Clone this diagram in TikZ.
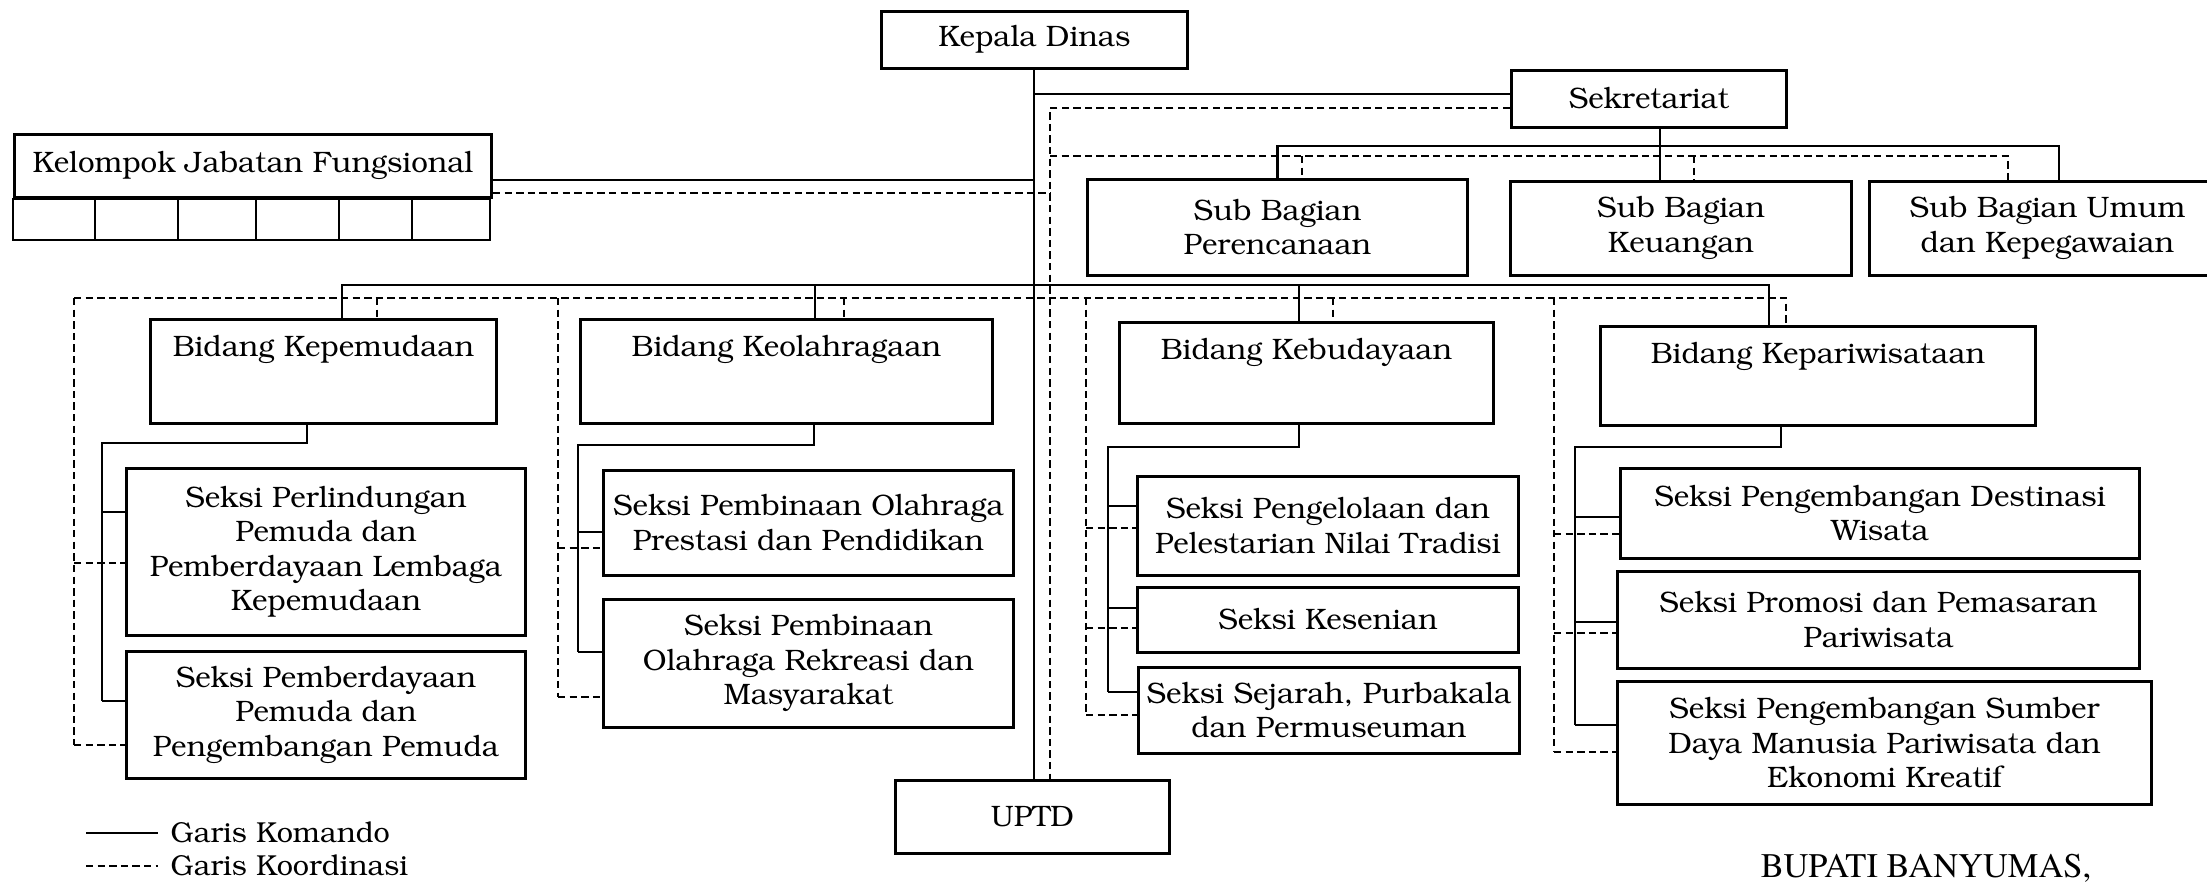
\documentclass[tikz,border=0pt]{standalone}
\usepackage[T1]{fontenc}
\usepackage{bookman}
\usepackage{tikz}

\begin{document}
\begin{tikzpicture}[x=0.01cm,y=-0.01cm,
	kotak/.style={draw,line width=0.75pt,inner sep=0pt,align=center,anchor=north west,font=\fontsize{8.4}{9.8}\selectfont},
	bidang/.style={kotak,text height=0.37cm},
	komando/.style={line width=0.6pt},
	koordinasi/.style={line width=0.55pt,dash pattern=on 2.1pt off 1.2pt}]
	\useasboundingbox (0,0) rectangle (2207,881);

	\node[kotak,minimum width=3.06cm,minimum height=0.57cm] (kadis) at (880,10) {Kepala Dinas};
	\node[kotak,minimum width=2.75cm,minimum height=0.57cm] (sekre) at (1510,69) {Sekretariat};
	\node[kotak,minimum width=4.77cm,minimum height=0.63cm] (jafung) at (13,133) {Kelompok Jabatan Fungsional};
	\foreach \a/\b in {13/95,95/178,178/256,256/339,339/412,412/490}
		\draw[line width=0.75pt] (\a,199) rectangle (\b,240);

	\node[kotak,minimum width=3.80cm,minimum height=0.96cm] (subren) at (1086,178) {Sub Bagian\\Perencanaan};
	\node[kotak,minimum width=3.41cm,minimum height=0.94cm] (subkeu) at (1509,180) {Sub Bagian\\Keuangan};
	\node[kotak,minimum width=3.56cm,minimum height=0.94cm] (subum) at (1868,180) {Sub Bagian Umum\\dan Kepegawaian};

	\node[bidang,minimum width=3.46cm,text depth=0.67cm] (bpemuda) at (149,318) {Bidang Kepemudaan};
	\node[bidang,minimum width=4.12cm,text depth=0.67cm] (bolahraga) at (579,318) {Bidang Keolahragaan};
	\node[bidang,minimum width=3.74cm,text depth=0.64cm] (bbudaya) at (1118,321) {Bidang Kebudayaan};
	\node[bidang,minimum width=4.35cm,text depth=0.62cm] (bwisata) at (1599,325) {Bidang Kepariwisataan};

	\node[kotak,minimum width=3.99cm,minimum height=1.67cm] (s11) at (125,467) {Seksi Perlindungan\\Pemuda dan\\Pemberdayaan Lembaga\\Kepemudaan};
	\node[kotak,minimum width=3.99cm,minimum height=1.27cm] (s12) at (125,650) {Seksi Pemberdayaan\\Pemuda dan\\Pengembangan Pemuda};
	\node[kotak,minimum width=4.10cm,minimum height=1.05cm] (s21) at (602,469) {Seksi Pembinaan Olahraga\\Prestasi dan Pendidikan};
	\node[kotak,minimum width=4.10cm,minimum height=1.28cm] (s22) at (602,598) {Seksi Pembinaan\\Olahraga Rekreasi dan\\Masyarakat};
	\node[kotak,minimum width=3.81cm,minimum height=0.99cm] (s31) at (1136,475) {Seksi Pengelolaan dan\\Pelestarian Nilai Tradisi};
	\node[kotak,minimum width=3.81cm,minimum height=0.65cm] (s32) at (1136,586) {Seksi Kesenian};
	\node[kotak,minimum width=3.81cm,minimum height=0.86cm] (s33) at (1137,666) {Seksi Sejarah, Purbakala\\dan Permuseuman};
	\node[kotak,minimum width=5.19cm,minimum height=0.90cm] (s41) at (1619,467) {Seksi Pengembangan Destinasi\\Wisata};
	\node[kotak,minimum width=5.22cm,minimum height=0.97cm] (s42) at (1616,570) {Seksi Promosi dan Pemasaran\\Pariwisata};
	\node[kotak,minimum width=5.34cm,minimum height=1.23cm] (s43) at (1616,680) {Seksi Pengembangan Sumber\\Daya Manusia Pariwisata dan\\Ekonomi Kreatif};
	\node[kotak,minimum width=2.74cm,minimum height=0.73cm] (uptd) at (894,779) {UPTD};

	\draw[komando] (kadis.south) -- (kadis.south |- uptd.north);
	\draw[komando] (kadis.south |- 0,94) -- (sekre.west |- 0,94);
	\draw[komando] (jafung.east |- 0,180) -- (kadis.south |- 0,180);
	\draw[koordinasi] (jafung.east |- 0,193) -- (1050,193);
	\draw[koordinasi] (sekre.west |- 0,108) -- (1050,108) -- (1050,0 |- uptd.north);

	\draw[komando] (1660,0 |- sekre.south) -- (1660,0 |- subkeu.north);
	\draw[komando] (subren.north) -- (subren.north |- 0,146) -- (2059,146) -- (2059,0 |- subum.north);
	\draw[koordinasi] (1050,156) -- (2008,156) -- (2008,0 |- subum.north);
	\draw[koordinasi] (1302,156) -- (1302,0 |- subren.north);
	\draw[koordinasi] (1694,156) -- (1694,0 |- subkeu.north);

	\draw[komando] (342,0 |- bpemuda.north) -- (342,285) -- (1769,285) -- (1769,0 |- bwisata.north);
	\draw[komando] (815,285) -- (815,0 |- bolahraga.north);
	\draw[komando] (1299,285) -- (1299,0 |- bbudaya.north);
	\draw[koordinasi] (74,298) -- (1786,298) -- (1786,0 |- bwisata.north);
	\draw[koordinasi] (377,298) -- (377,0 |- bpemuda.north);
	\draw[koordinasi] (844,298) -- (844,0 |- bolahraga.north);
	\draw[koordinasi] (1333,298) -- (1333,0 |- bbudaya.north);

	\draw[komando] (307,0 |- bpemuda.south) -- (307,443) -- (102,443) -- (102,701);
	\foreach \y/\n in {512/s11,701/s12} \draw[komando] (102,\y) -- (\n.west |- 0,\y);
	\draw[koordinasi] (74,298) -- (74,745);
	\foreach \y/\n in {563/s11,745/s12} \draw[koordinasi] (74,\y) -- (\n.west |- 0,\y);

	\draw[komando] (814,0 |- bolahraga.south) -- (814,445) -- (578,445) -- (578,652);
	\foreach \y/\n in {532/s21,652/s22} \draw[komando] (578,\y) -- (\n.west |- 0,\y);
	\draw[koordinasi] (558,298) -- (558,697);
	\foreach \y/\n in {548/s21,697/s22} \draw[koordinasi] (558,\y) -- (\n.west |- 0,\y);

	\draw[komando] (1299,0 |- bbudaya.south) -- (1299,447) -- (1108,447) -- (1108,692);
	\foreach \y/\n in {506/s31,608/s32,692/s33} \draw[komando] (1108,\y) -- (\n.west |- 0,\y);
	\draw[koordinasi] (1086,298) -- (1086,715);
	\foreach \y/\n in {528/s31,628/s32,715/s33} \draw[koordinasi] (1086,\y) -- (\n.west |- 0,\y);

	\draw[komando] (1781,0 |- bwisata.south) -- (1781,447) -- (1575,447) -- (1575,725);
	\foreach \y/\n in {517/s41,622/s42,725/s43} \draw[komando] (1575,\y) -- (\n.west |- 0,\y);
	\draw[koordinasi] (1554,298) -- (1554,752);
	\foreach \y/\n in {534/s41,633/s42,752/s43} \draw[koordinasi] (1554,\y) -- (\n.west |- 0,\y);

	\coordinate (lk1) at (86,833);
	\coordinate (lk2) at (158,833);
	\coordinate (lc1) at (86,866);
	\coordinate (lc2) at (158,866);
	\draw[komando] (lk1) -- (lk2);
	\draw[koordinasi] (lc1) -- (lc2);
	\node[anchor=west,inner sep=0pt,font=\fontsize{8.2}{9}\selectfont] (tkom) at (170,833) {Garis Komando};
	\node[anchor=west,inner sep=0pt,font=\fontsize{8.2}{9}\selectfont] (tkor) at (170,866) {Garis Koordinasi};
	\node[anchor=base,inner sep=0pt,font=\fontfamily{ptm}\fontsize{9.8}{11}\selectfont] (bupati) at (1926,877) {BUPATI BANYUMAS,};
\end{tikzpicture}
\end{document}
